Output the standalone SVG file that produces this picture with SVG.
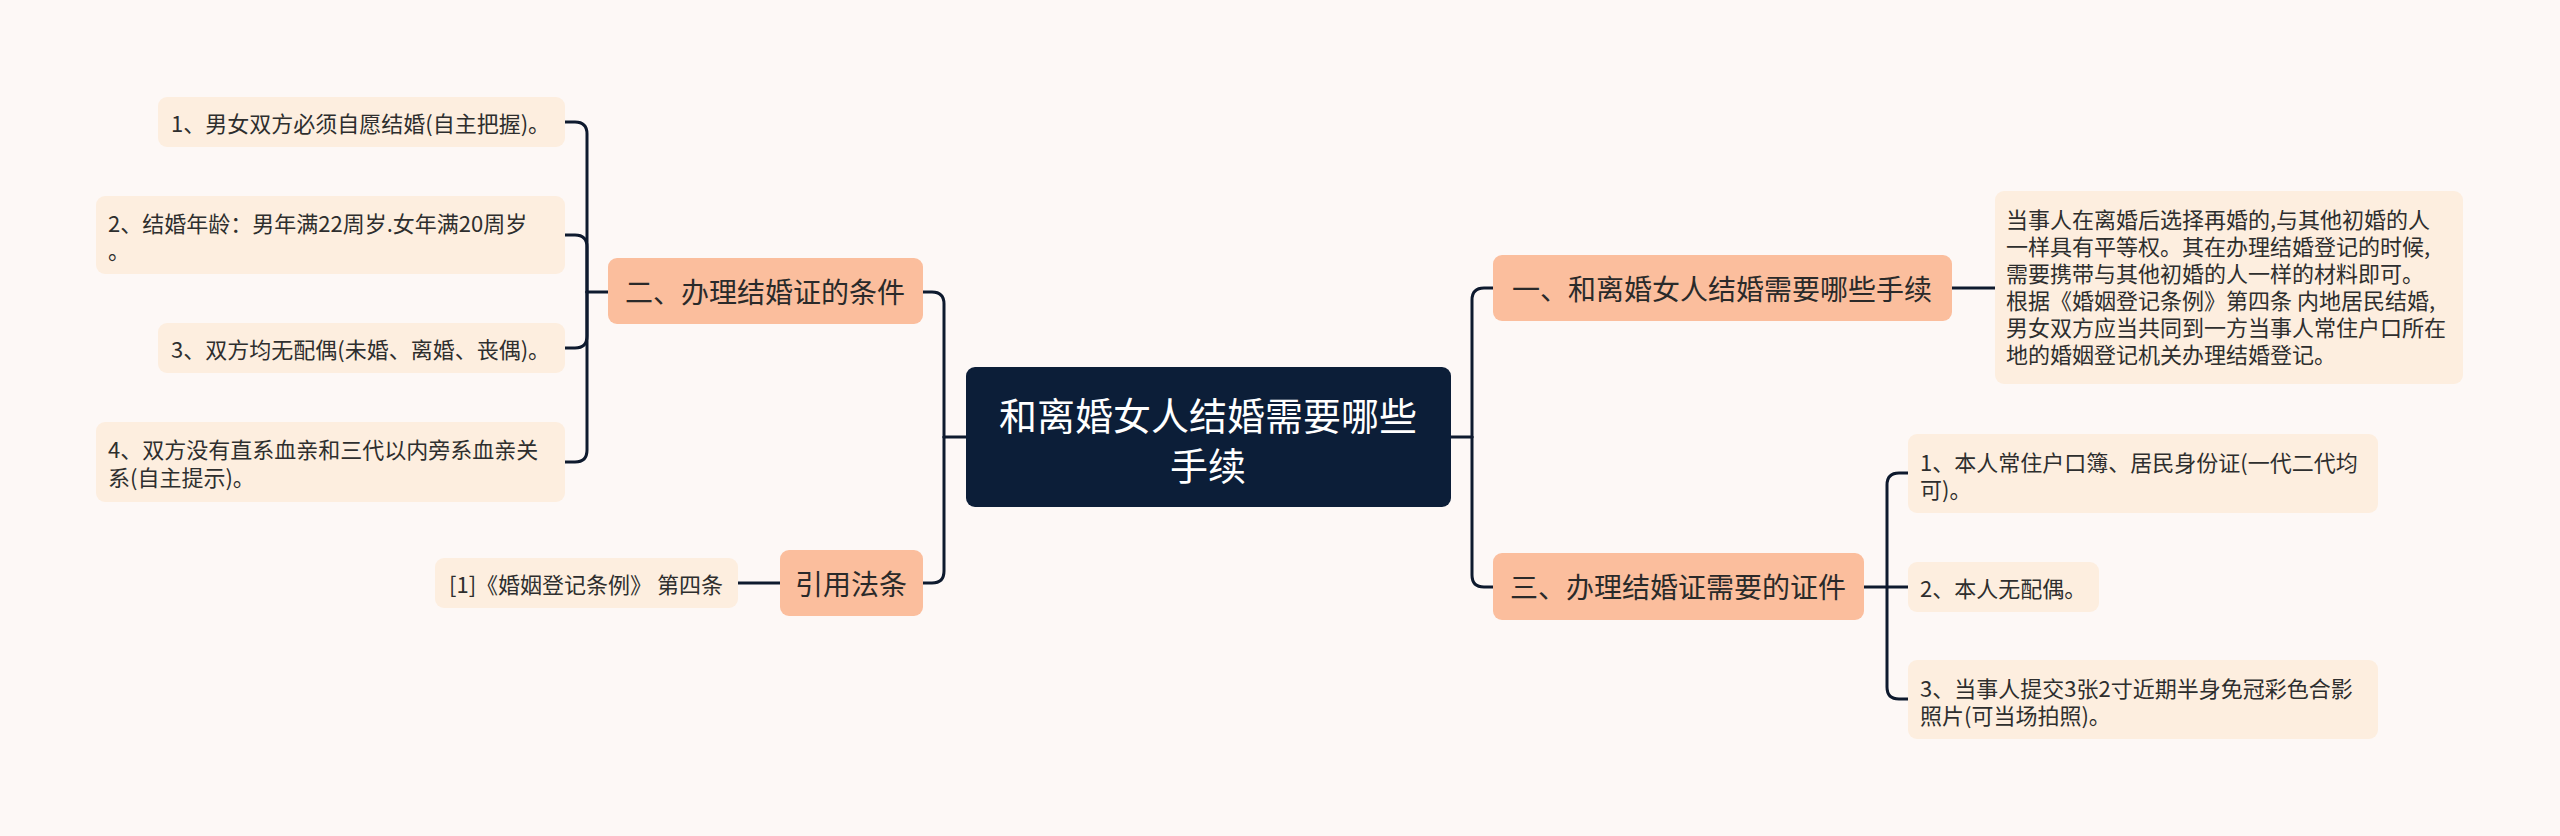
<svg xmlns="http://www.w3.org/2000/svg" width="2560" height="836" viewBox="0 0 2560 836">
<style>
text{font-family:"Noto Sans CJK SC","Liberation Sans",sans-serif;dominant-baseline:central;}
.leaf rect{fill:#FDEEDF;}
.leaf text{font-size:22px;fill:#2E2E2E;}
.topic rect{fill:#FBBE9D;}
.topic text{font-size:28px;fill:#2A2A2A;text-anchor:middle;}
.root rect{fill:#0C1E38;}
.root text{font-size:38px;fill:#FFFFFF;text-anchor:middle;}
.conn path{fill:none;stroke:#0E1A2E;stroke-width:3;stroke-linecap:round;}
</style>
<rect x="0" y="0" width="2560" height="836" fill="#FDF8F6"/>
<g class="conn" id="connectors">
<path d="M966 437 H944"/>
<path d="M944 437 V304 Q944 292 932 292 H923"/>
<path d="M944 437 V571 Q944 583 932 583 H923"/>
<path d="M608 292 H587"/>
<path d="M587 292 V134 Q587 122 575 122 H565"/>
<path d="M587 292 V247 Q587 235 575 235 H565"/>
<path d="M587 292 V336 Q587 348 575 348 H565"/>
<path d="M587 292 V450 Q587 462 575 462 H565"/>
<path d="M780 583 H738"/>
<path d="M1451 437 H1472"/>
<path d="M1472 437 V300 Q1472 288 1484 288 H1493"/>
<path d="M1472 437 V575 Q1472 587 1484 587 H1493"/>
<path d="M1952 288 H1995"/>
<path d="M1864 587 H1887"/>
<path d="M1887 587 V485 Q1887 473 1899 473 H1908"/>
<path d="M1887 587 H1908"/>
<path d="M1887 587 V687 Q1887 699 1899 699 H1908"/>
</g>
<g id="root" class="root">
<rect x="966" y="367" width="485" height="140" rx="9"/>
<text x="1208" y="413">和离婚女人结婚需要哪些</text>
<text x="1208" y="463">手续</text>
</g>
<g id="topic-2" class="topic">
<rect x="608" y="258" width="315" height="66" rx="9"/>
<text x="765" y="291">二、办理结婚证的条件</text>
</g>
<g id="topic-ref" class="topic">
<rect x="780" y="550" width="143" height="66" rx="9"/>
<text x="851" y="583">引用法条</text>
</g>
<g id="topic-1" class="topic">
<rect x="1493" y="255" width="459" height="66" rx="9"/>
<text x="1722" y="288">一、和离婚女人结婚需要哪些手续</text>
</g>
<g id="topic-3" class="topic">
<rect x="1493" y="553" width="371" height="67" rx="9"/>
<text x="1678" y="586">三、办理结婚证需要的证件</text>
</g>
<g id="leaf-l1" class="leaf">
<rect x="158" y="97" width="407" height="50" rx="9"/>
<text x="171" y="122">1、男女双方必须自愿结婚(自主把握)。</text>
</g>
<g id="leaf-l2" class="leaf">
<rect x="96" y="196" width="469" height="78" rx="9"/>
<text x="108" y="222">2、结婚年龄：男年满22周岁.女年满20周岁</text>
<text x="108" y="249">。</text>
</g>
<g id="leaf-l3" class="leaf">
<rect x="158" y="323" width="407" height="50" rx="9"/>
<text x="171" y="348">3、双方均无配偶(未婚、离婚、丧偶)。</text>
</g>
<g id="leaf-l4" class="leaf">
<rect x="96" y="422" width="469" height="80" rx="9"/>
<text x="108" y="448">4、双方没有直系血亲和三代以内旁系血亲关</text>
<text x="108" y="476">系(自主提示)。</text>
</g>
<g id="leaf-ref" class="leaf">
<rect x="435" y="558" width="303" height="50" rx="9"/>
<text x="449" y="583">[1]《婚姻登记条例》 第四条</text>
</g>
<g id="leaf-desc" class="leaf">
<rect x="1995" y="191" width="468" height="193" rx="9"/>
<text x="2006" y="218">当事人在离婚后选择再婚的,与其他初婚的人</text>
<text x="2006" y="245">一样具有平等权。其在办理结婚登记的时候,</text>
<text x="2006" y="272">需要携带与其他初婚的人一样的材料即可。</text>
<text x="2006" y="299">根据《婚姻登记条例》第四条 内地居民结婚,</text>
<text x="2006" y="326">男女双方应当共同到一方当事人常住户口所在</text>
<text x="2006" y="353">地的婚姻登记机关办理结婚登记。</text>
</g>
<g id="leaf-r1" class="leaf">
<rect x="1908" y="434" width="470" height="79" rx="9"/>
<text x="1920" y="461">1、本人常住户口簿、居民身份证(一代二代均</text>
<text x="1920" y="488">可)。</text>
</g>
<g id="leaf-r2" class="leaf">
<rect x="1908" y="562" width="191" height="50" rx="9"/>
<text x="1920" y="587">2、本人无配偶。</text>
</g>
<g id="leaf-r3" class="leaf">
<rect x="1908" y="660" width="470" height="79" rx="9"/>
<text x="1920" y="687">3、当事人提交3张2寸近期半身免冠彩色合影</text>
<text x="1920" y="714">照片(可当场拍照)。</text>
</g>
</svg>
